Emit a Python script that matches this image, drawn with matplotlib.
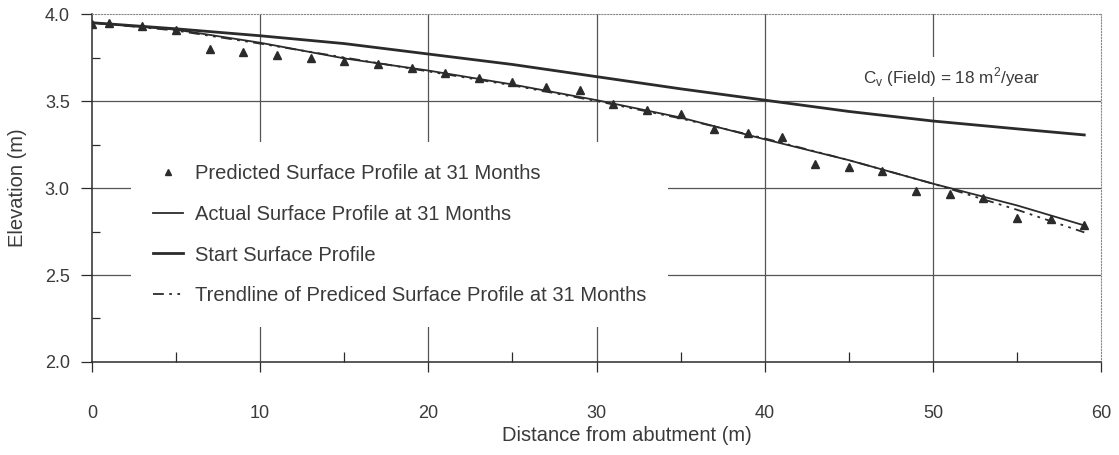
import matplotlib
matplotlib.use("Agg")
import matplotlib.pyplot as plt
from matplotlib.ticker import MultipleLocator

plt.rcParams['font.family'] = ['Liberation Sans', 'DejaVu Sans']
plt.rcParams['mathtext.fontset'] = 'custom'
plt.rcParams['mathtext.rm'] = 'Liberation Sans'

# Predicted surface profile at 31 months (triangles)
pred_x = [0, 1, 3, 5, 7, 9, 11, 13, 15, 17, 19, 21, 23, 25, 27, 29,
          31, 33, 35, 37, 39, 41, 43, 45, 47, 49, 51, 53, 55, 57, 59]
pred_y = [3.945, 3.95, 3.93, 3.91, 3.80, 3.78, 3.765, 3.75, 3.73, 3.71, 3.69,
          3.66, 3.635, 3.61, 3.58, 3.565, 3.48, 3.45, 3.425, 3.34, 3.315,
          3.295, 3.14, 3.12, 3.10, 2.985, 2.965, 2.94, 2.83, 2.82, 2.79]

# Line profiles sampled every 5 m
prof_x = [0, 5, 10, 15, 20, 25, 30, 35, 40, 45, 50, 55, 59]
actual_y = [3.95, 3.91, 3.835, 3.745, 3.675, 3.595, 3.505, 3.405, 3.28, 3.16, 3.025, 2.90, 2.785]
start_y = [3.95, 3.915, 3.875, 3.83, 3.77, 3.71, 3.64, 3.57, 3.505, 3.44, 3.385, 3.34, 3.305]
trend_y = [3.95, 3.905, 3.83, 3.75, 3.67, 3.59, 3.50, 3.40, 3.285, 3.16, 3.025, 2.875, 2.745]

x_grid = [10, 20, 30, 40, 50]
y_grid = [2.5, 3.0, 3.5]

ink = '#2b2b2b'
txt = '#3a3a3a'

fig = plt.figure(figsize=(11.19, 4.55), dpi=100)
ax = fig.add_axes([0.0822, 0.2044, 0.9018, 0.7648])

for xv in x_grid:
    ax.axvline(xv, color='#555555', lw=0.9, zorder=0)
for yv in y_grid:
    ax.axhline(yv, color='#555555', lw=0.9, zorder=0)

ax.plot(pred_x, pred_y, linestyle='none', marker='^', ms=5.5, color=ink,
        label='Predicted Surface Profile at 31 Months', zorder=4)
ax.plot(prof_x, actual_y, color=ink, lw=1.3,
        label='Actual Surface Profile at 31 Months', zorder=3)
ax.plot(prof_x, start_y, color=ink, lw=2.0,
        label='Start Surface Profile', zorder=3)
ax.plot(prof_x, trend_y, color=ink, lw=1.3, linestyle=(0, (6, 3, 1.5, 3, 1.5, 3)),
        label='Trendline of Prediced Surface Profile at 31 Months', zorder=3)

ax.set_xlim(0, 60)
ax.set_ylim(2.0, 4.0)
ax.set_xticks([0, 10, 20, 30, 40, 50, 60])
ax.set_yticks([2.0, 2.5, 3.0, 3.5, 4.0])
ax.set_yticklabels(['2.0', '2.5', '3.0', '3.5', '4.0'])
ax.xaxis.set_minor_locator(MultipleLocator(5))
ax.yaxis.set_minor_locator(MultipleLocator(0.25))

ax.tick_params(axis='x', which='major', direction='out', length=7, width=0.9,
               pad=24, labelsize=13, colors=ink, labelcolor=txt)
ax.tick_params(axis='x', which='minor', direction='in', length=7, width=0.9, colors=ink)
ax.tick_params(axis='y', which='major', direction='out', length=8, width=0.9,
               pad=8, labelsize=13, colors=ink, labelcolor=txt)
ax.tick_params(axis='y', which='minor', direction='in', length=6, width=0.9, colors=ink)

for side in ['left', 'bottom']:
    ax.spines[side].set_color(ink)
    ax.spines[side].set_linewidth(1.1)
for side in ['top', 'right']:
    ax.spines[side].set_color('#888888')
    ax.spines[side].set_linewidth(0.8)
    ax.spines[side].set_linestyle(':')

ax.set_xlabel('Distance from abutment (m)', fontsize=14.5, color=txt)
ax.xaxis.set_label_coords(0.530, -0.183)
ax.set_ylabel('Elevation (m)', fontsize=14.5, color=txt)
ax.yaxis.set_label_coords(-0.064, 0.5)

leg = ax.legend(loc='upper left', bbox_to_anchor=(0.039, 0.632), fontsize=14.5,
                frameon=True, facecolor='white', edgecolor='none', framealpha=1,
                fancybox=False, numpoints=1, handlelength=1.5, handletextpad=0.6,
                labelspacing=1.09, borderpad=1.07, borderaxespad=0, markerscale=0.75)
for t in leg.get_texts():
    t.set_color(txt)
leg.set_zorder(5)

ax.text(0.852, 0.819, r'C$_\mathregular{v}$ (Field) = 18 m$^\mathregular{2}$/year',
        transform=ax.transAxes, ha='center', va='center', fontsize=12.3, color=txt,
        bbox=dict(facecolor='white', edgecolor='none', pad=6), zorder=5)

fig.savefig('out.png', dpi=100)
